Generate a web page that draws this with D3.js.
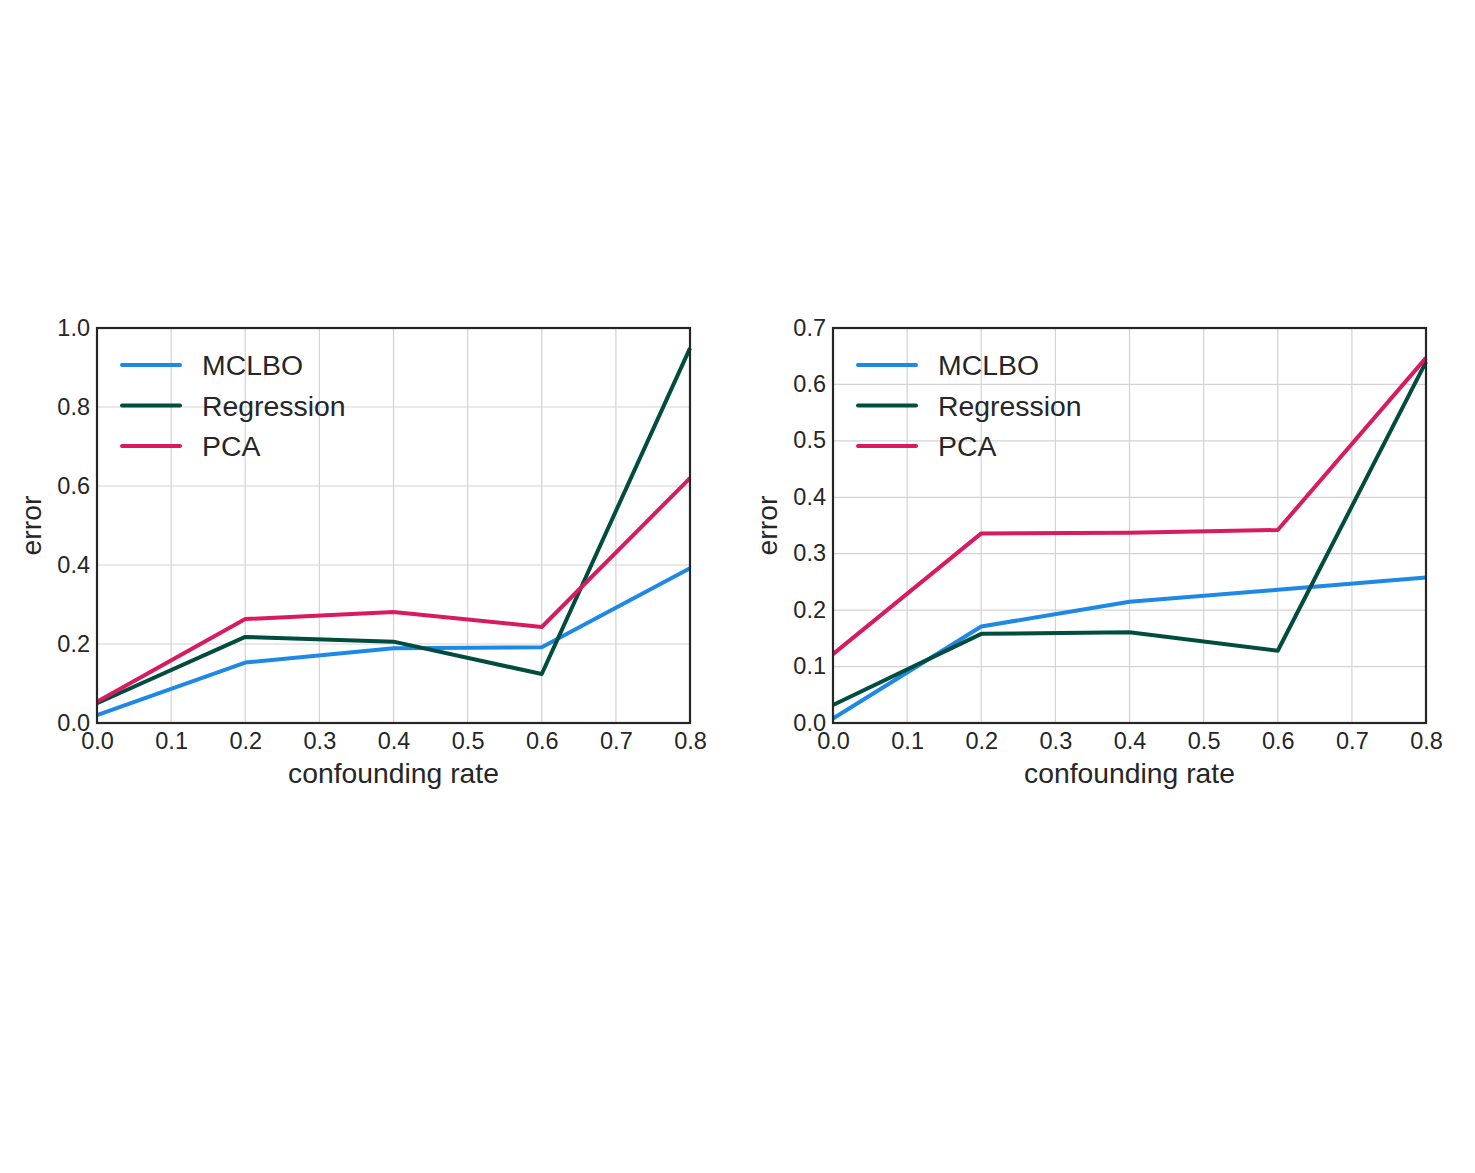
<!DOCTYPE html>
<html>
<head>
<meta charset="utf-8">
<script src="https://cdn.jsdelivr.net/npm/d3@7"></script>
<style>
body { margin: 0; background: #fff; }
text { font-family: "Liberation Sans", Arial, sans-serif; fill: #262626; }
</style>
</head>
<body>
<svg id="fig" width="1475" height="1173"></svg>
<script>
// x values shared by both panels
var rates = [0.0, 0.2, 0.4, 0.6, 0.8];
var seriesNames = ["MCLBO", "Regression", "PCA"];
var seriesColors = ["#1E88E5", "#004D40", "#D81B60"];

// left panel
var leftMCLBO = [0.02, 0.153, 0.189, 0.192, 0.392];
var leftRegression = [0.05, 0.218, 0.206, 0.124, 0.949];
var leftPCA = [0.054, 0.263, 0.281, 0.243, 0.62];

// right panel
var rightMCLBO = [0.008, 0.171, 0.215, 0.236, 0.258];
var rightRegression = [0.032, 0.158, 0.161, 0.128, 0.640];
var rightPCA = [0.122, 0.336, 0.337, 0.342, 0.647];

var xTicks = [0, 0.1, 0.2, 0.3, 0.4, 0.5, 0.6, 0.7, 0.8];
var leftYTicks = [0, 0.2, 0.4, 0.6, 0.8, 1.0];
var rightYTicks = [0, 0.1, 0.2, 0.3, 0.4, 0.5, 0.6, 0.7];

var svg = d3.select("#fig");

function drawPanel(left, yMax, yTicks, data) {
	var top = 328, w = 593, h = 395;
	var x = d3.scaleLinear().domain([0, 0.8]).range([left, left + w]);
	var y = d3.scaleLinear().domain([0, yMax]).range([top + h, top]);
	var g = svg.append("g");

	// grid
	g.append("g").selectAll("line.vx")
		.data(xTicks).join("line")
		.attr("x1", function(d){ return x(d); })
		.attr("x2", function(d){ return x(d); })
		.attr("y1", top).attr("y2", top + h)
		.attr("stroke", "#d3d3d3").attr("stroke-width", 1.2);
	g.append("g").selectAll("line.hy")
		.data(yTicks).join("line")
		.attr("x1", left).attr("x2", left + w)
		.attr("y1", function(d){ return y(d); })
		.attr("y2", function(d){ return y(d); })
		.attr("stroke", "#d3d3d3").attr("stroke-width", 1.2);

	// axes
	var xAxis = g.append("g")
		.attr("transform", "translate(0," + (top + h) + ")")
		.call(d3.axisBottom(x).tickValues(xTicks).tickFormat(d3.format(".1f")).tickSize(0).tickPadding(9));
	var yAxis = g.append("g")
		.attr("transform", "translate(" + left + ",0)")
		.call(d3.axisLeft(y).tickValues(yTicks).tickFormat(d3.format(".1f")).tickSize(0).tickPadding(7));
	[xAxis, yAxis].forEach(function(a){
		a.select(".domain").remove();
		a.selectAll("text").style("font-size", "23.5px").attr("fill", "#262626")
			.style("font-family", "'Liberation Sans', Arial, sans-serif");
	});
	xAxis.selectAll("text").attr("dy", "0.71em");
	yAxis.selectAll("text").attr("dy", "0.3em");

	// lines
	var line = d3.line()
		.x(function(d, i){ return x(rates[i]); })
		.y(function(d){ return y(d); });
	g.append("g").selectAll("path")
		.data(data).join("path")
		.attr("d", function(d){ return line(d); })
		.attr("fill", "none")
		.attr("stroke", function(d, i){ return seriesColors[i]; })
		.attr("stroke-width", 4)
		.attr("stroke-linejoin", "round");

	// frame
	g.append("rect")
		.attr("x", left).attr("y", top).attr("width", w).attr("height", h)
		.attr("fill", "none").attr("stroke", "#262626").attr("stroke-width", 2.2);

	// legend
	var lg = g.append("g");
	seriesNames.forEach(function(name, i){
		var ly = top + 37 + i * 40.5;
		lg.append("line")
			.attr("x1", left + 25).attr("x2", left + 83)
			.attr("y1", ly).attr("y2", ly)
			.attr("stroke", seriesColors[i]).attr("stroke-width", 4)
			.attr("stroke-linecap", "round");
		lg.append("text")
			.attr("x", left + 105).attr("y", ly)
			.attr("dy", "0.36em")
			.style("font-size", "28.4px")
			.text(name);
	});

	// labels
	g.append("text")
		.attr("x", left + w / 2).attr("y", 783)
		.attr("text-anchor", "middle")
		.style("font-size", "28.3px")
		.text("confounding rate");
	g.append("text")
		.attr("transform", "translate(" + (left - 56) + "," + (top + h / 2) + ") rotate(-90)")
		.attr("text-anchor", "middle")
		.style("font-size", "28.3px")
		.text("error");
}

drawPanel(97, 1.0, leftYTicks, [leftMCLBO, leftRegression, leftPCA]);
drawPanel(833, 0.7, rightYTicks, [rightMCLBO, rightRegression, rightPCA]);
</script>
</body>
</html>
